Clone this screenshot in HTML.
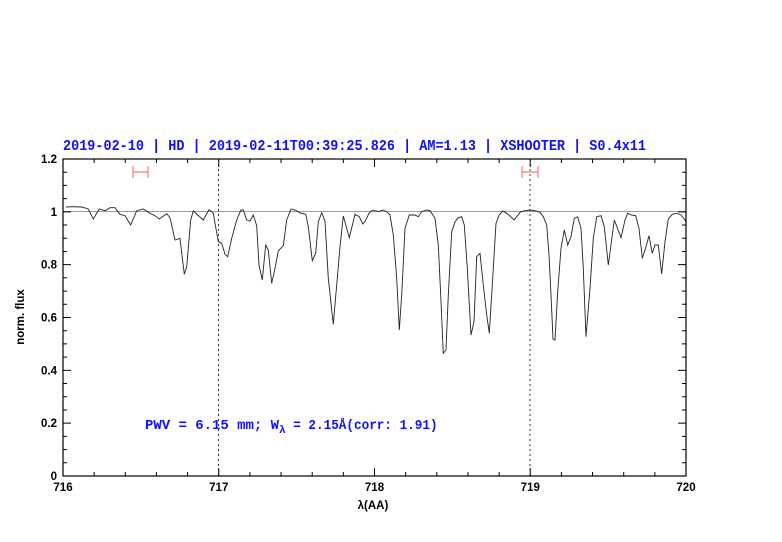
<!DOCTYPE html>
<html><head><meta charset="utf-8"><style>body{margin:0;background:#fff}svg{display:block}</style></head><body>
<svg width="782" height="542" xmlns="http://www.w3.org/2000/svg" font-family="Liberation Sans, sans-serif">
<rect width="782" height="542" fill="#fff"/>
<text x="63" y="150" font-family="Liberation Mono, monospace" font-size="14.5" font-weight="bold" fill="#1010ff" textLength="583" lengthAdjust="spacingAndGlyphs">2019-02-10 | HD | 2019-02-11T00:39:25.826 | AM=1.13 | XSHOOTER | S0.4x11</text>
<line x1="63" y1="211.5" x2="686" y2="211.5" stroke="#c88" stroke-width="1"/>
<line x1="218.5" y1="159" x2="218.5" y2="476" stroke="#333" stroke-width="1" stroke-dasharray="2,3"/>
<line x1="530" y1="159" x2="530" y2="476" stroke="#333" stroke-width="1" stroke-dasharray="2,3"/>
<g stroke="#f77" stroke-width="1.2" fill="none">
<path d="M133 172H148M133 166V178M148 166V178"/>
<path d="M522 172H538M522 166V178M538 166V178"/>
</g>
<polyline fill="none" stroke="#222" stroke-width="0.9" points="66,207 73.3,206.7 81.7,207 88.3,209 93.3,219 99.3,209 105,210.7 110,207.7 115,207.7 120,214.3 125,215.7 130.7,225 136.7,210.7 143.3,209 150,213.3 155,215.7 159.3,219 166.7,213.7 170,217.7 175,240 180,238.3 184.3,274.3 186.7,266.7 190.7,220 193.3,211 203.3,220 209,209.7 213.3,213.3 215,223.3 218.3,241.7 221.7,243.3 225,254.3 227.7,256.7 231.7,238.3 236.7,220 241,210 243.3,210 246.7,220 250,221 253.3,215 256.7,225.7 259,265 262.3,280 265.7,245 268.3,250 271.7,283.3 275,268.3 278.3,251 283.3,245.7 286.7,220 291,209 295,210 301,213.3 305.7,214.3 308.3,226.7 312.3,260.7 315.7,253.3 318.3,221.7 321.7,212.7 325,221 328.3,278.3 333.3,324.3 340,246.7 343.3,216 349.3,237.7 355,214.3 359.3,216.7 362.7,224 365,221.7 369,213.3 371.7,210.7 375,210.7 378.3,211.7 382.7,210 386.7,211.7 390,215 393.3,235 396.7,278.3 399.3,330 401.7,295 405,228.3 409.3,215 415,215 418.3,216.7 421.7,211.7 426.7,210 430,210.7 435,218.3 438.3,245 440.7,295 443.3,353.3 446,350 448.3,295 451.7,231.7 455,221.7 458.3,217.7 461.7,216.7 464.3,225 467.3,268.3 471,335 474,321.7 476.7,256.7 480,253.3 483.3,285 486.7,315 489.3,333.3 492.7,278.3 496,223.3 499.3,215 502.7,211 506.7,213.3 510.7,216.7 514.3,220 516.7,216.7 520.7,211.7 525,210.7 530,210 535,210.7 540,212.3 543.3,216.7 546.7,225 549,255 551,295 553,339 555,340 557.7,291.7 561,248.3 564.3,230 567.7,245 571,236.7 574.3,218.3 577.7,216.7 581,228.3 583.3,268.3 586,336.7 590,288.3 593.3,238.3 596.7,216.7 601,215.7 604.3,226.7 608.3,265 611,245 614.3,220 621,237.7 625,220 627.7,213.3 631,215 635.7,215.7 639,228.3 642.3,258.3 645.7,247.7 649,235.7 652.3,253.3 655,245 658.3,245 661.7,274 665,241.7 668.3,219 672.3,214.3 676.7,213.3 681,215 684.3,219 686,222"/>
<rect x="63" y="159" width="623" height="317" fill="none" stroke="#000" stroke-width="1.2"/>
<path stroke="#000" stroke-width="1" fill="none" d="
M94.15 476v-4M125.3 476v-4M156.45 476v-4M187.6 476v-4M218.75 476v-8M249.9 476v-4M281.05 476v-4M312.2 476v-4M343.35 476v-4M374.5 476v-8M405.65 476v-4M436.8 476v-4M467.95 476v-4M499.1 476v-4M530.25 476v-8M561.4 476v-4M592.55 476v-4M623.7 476v-4M654.85 476v-4
M94.15 159v4M125.3 159v4M156.45 159v4M187.6 159v4M218.75 159v8M249.9 159v4M281.05 159v4M312.2 159v4M343.35 159v4M374.5 159v8M405.65 159v4M436.8 159v4M467.95 159v4M499.1 159v4M530.25 159v8M561.4 159v4M592.55 159v4M623.7 159v4M654.85 159v4
M63 462.79h4M63 449.58h4M63 436.38h4M63 423.17h8M63 409.96h4M63 396.75h4M63 383.54h4M63 370.33h8M63 357.13h4M63 343.92h4M63 330.71h4M63 317.5h8M63 304.29h4M63 291.08h4M63 277.88h4M63 264.67h8M63 251.46h4M63 238.25h4M63 225.04h4M63 211.83h8M63 198.63h4M63 185.42h4M63 172.21h4
M686 462.79h-4M686 449.58h-4M686 436.38h-4M686 423.17h-8M686 409.96h-4M686 396.75h-4M686 383.54h-4M686 370.33h-8M686 357.13h-4M686 343.92h-4M686 330.71h-4M686 317.5h-8M686 304.29h-4M686 291.08h-4M686 277.88h-4M686 264.67h-8M686 251.46h-4M686 238.25h-4M686 225.04h-4M686 211.83h-8M686 198.63h-4M686 185.42h-4M686 172.21h-4"/>
<g font-size="11.5" font-weight="bold" fill="#000" text-anchor="end">
<text x="57" y="480">0</text><text x="57" y="427.2">0.2</text><text x="57" y="374.3">0.4</text><text x="57" y="321.5">0.6</text><text x="57" y="268.7">0.8</text><text x="57" y="215.8">1</text><text x="57" y="163">1.2</text>
</g>
<g font-size="11.5" font-weight="bold" fill="#000" text-anchor="middle">
<text x="63" y="491">716</text><text x="218.75" y="491">717</text><text x="374.5" y="491">718</text><text x="530.25" y="491">719</text><text x="686" y="491">720</text>
</g>
<text x="373" y="509" font-size="11.5" font-weight="bold" text-anchor="middle">λ(AA)</text>
<text transform="translate(24,317) rotate(-90)" font-size="11.5" font-weight="bold" text-anchor="middle">norm. flux</text>
<text x="145" y="429" font-family="Liberation Mono, monospace" font-size="14" font-weight="bold" fill="#1010ff"><tspan textLength="134" lengthAdjust="spacingAndGlyphs">PWV = 6.15 mm; W</tspan><tspan font-size="11" dy="4">λ</tspan><tspan dy="-4" textLength="152" lengthAdjust="spacingAndGlyphs"> = 2.15Å(corr: 1.91)</tspan></text>
</svg>
</body></html>
